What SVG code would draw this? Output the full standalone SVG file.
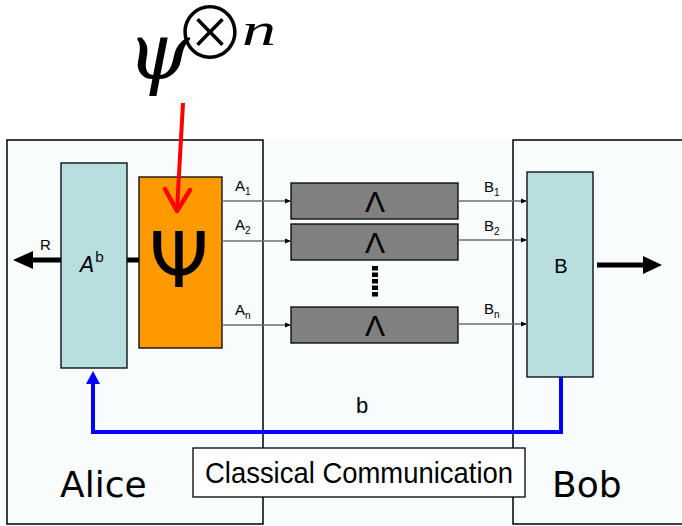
<svg xmlns="http://www.w3.org/2000/svg" width="682" height="526" viewBox="0 0 682 526">
<style>
.frame{fill:none;stroke:#000;stroke-width:1.5}
.wire{stroke:#6e6e6e;stroke-width:1.3;fill:none}
.lam{fill:#808080;stroke:#000;stroke-width:1.3}
.lamt{font-family:"Liberation Sans",Arial,sans-serif;font-size:30px;fill:#000;text-anchor:middle}
.lbl{font-family:"Liberation Sans",Arial,sans-serif;font-size:15px;fill:#000}
.sub{font-size:10px}
.hand{font-family:"Comic Sans MS","DejaVu Sans",sans-serif;fill:#000}
</style>
<defs>
<marker id="sa" viewBox="0 0 6 6" refX="6" refY="3" markerWidth="6" markerHeight="6" markerUnits="userSpaceOnUse" orient="auto">
<path d="M0,0.5 L6,3 L0,5.5 Z" fill="#000"/>
</marker>
</defs>
<rect x="0" y="138" width="682" height="388" fill="#f9fcfd"/>

<g id="alice">
<rect class="frame" x="7" y="140" width="256" height="384"/>
<text class="hand" x="60" y="497" font-size="36">Alice</text>
</g>
<g id="bob">
<rect class="frame" x="513" y="140" width="180" height="384"/>
<text class="hand" x="552" y="497" font-size="36">Bob</text>
</g>

<g id="formula">
<text x="127" y="79" font-family="'DejaVu Serif','Liberation Serif',serif" font-style="italic" font-size="80" font-weight="300">ψ<tspan x="174" y="59" font-family="'Noto Sans CJK JP','DejaVu Sans',sans-serif" font-style="normal" font-size="72">⊗</tspan><tspan x="242" y="45" font-family="'Liberation Serif','DejaVu Serif',serif" font-size="46" textLength="34" lengthAdjust="spacingAndGlyphs">n</tspan></text>
</g>

<g id="Ab">
<rect x="61" y="163" width="66" height="205" fill="#b8dee0" stroke="#000" stroke-width="1.3"/>
<text class="hand" x="80" y="272" font-size="21" font-style="italic">A</text>
<text class="hand" x="95" y="262" font-size="14">b</text>
</g>

<g id="psi">
<rect x="139" y="177" width="83" height="171" fill="#ff9900" stroke="#000" stroke-width="1.3"/>
<text x="179" y="287" text-anchor="middle" font-family="'DejaVu Sans',sans-serif" font-size="76">Ψ</text>
</g>

<g id="lambda1">
<rect class="lam" x="291" y="183" width="167" height="36"/>
<text class="lamt" x="375" y="212">Λ</text>
</g>
<g id="lambda2">
<rect class="lam" x="291" y="224" width="167" height="36"/>
<text class="lamt" x="375" y="253">Λ</text>
</g>
<g id="lambdan">
<rect class="lam" x="291" y="307" width="167" height="36"/>
<text class="lamt" x="375" y="336">Λ</text>
</g>
<g id="dots">
<line x1="375" y1="266" x2="375" y2="298" stroke="#000" stroke-width="6" stroke-dasharray="4.5,2"/>
</g>

<g id="B">
<rect x="527" y="172" width="66" height="205" fill="#b8dee0" stroke="#000" stroke-width="1.3"/>
<text x="561" y="273" text-anchor="middle" font-family="'Liberation Sans',Arial,sans-serif" font-size="20">B</text>
</g>

<g id="cc">
<rect x="193" y="448" width="332" height="49" fill="#fff" stroke="#000" stroke-width="1.3"/>
<text x="205" y="483" font-family="'Liberation Sans',Arial,sans-serif" font-size="29" textLength="308" lengthAdjust="spacingAndGlyphs">Classical Communication</text>
</g>

<g id="connectors">
<line x1="61" y1="260" x2="30" y2="260" stroke="#000" stroke-width="5"/>
<polygon points="13,260 33,251 33,269" fill="#000"/>
<text class="lbl" x="40" y="250">R</text>
<line x1="127" y1="260" x2="139" y2="260" stroke="#000" stroke-width="5"/>
<line x1="183" y1="103" x2="177" y2="210" stroke="#ff0000" stroke-width="4"/>
<polyline points="165,189 177,211 190,190" fill="none" stroke="#ff0000" stroke-width="4.5" stroke-linecap="round" stroke-linejoin="round"/>
<line class="wire" x1="222" y1="201" x2="291" y2="201" marker-end="url(#sa)"/>
<line class="wire" x1="222" y1="241" x2="291" y2="241" marker-end="url(#sa)"/>
<line class="wire" x1="222" y1="325" x2="291" y2="325" marker-end="url(#sa)"/>
<text class="lbl" x="235" y="191">A<tspan class="sub" dy="4">1</tspan></text>
<text class="lbl" x="235" y="230">A<tspan class="sub" dy="4">2</tspan></text>
<text class="lbl" x="235" y="315">A<tspan class="sub" dy="4">n</tspan></text>
<line class="wire" x1="458" y1="201" x2="527" y2="201" marker-end="url(#sa)"/>
<line class="wire" x1="458" y1="240" x2="527" y2="240" marker-end="url(#sa)"/>
<line class="wire" x1="458" y1="324" x2="527" y2="324" marker-end="url(#sa)"/>
<text class="lbl" x="484" y="192">B<tspan class="sub" dy="4">1</tspan></text>
<text class="lbl" x="484" y="231">B<tspan class="sub" dy="4">2</tspan></text>
<text class="lbl" x="484" y="314">B<tspan class="sub" dy="4">n</tspan></text>
<line x1="597" y1="265" x2="645" y2="265" stroke="#000" stroke-width="5"/>
<polygon points="662,265 643,256 643,274" fill="#000"/>
<path d="M561,377 V432 H93 V382" fill="none" stroke="#0000ff" stroke-width="4"/>
<polygon points="93,371 86,384 100,384" fill="#0000ff"/>
<text x="362" y="413" text-anchor="middle" font-family="'Liberation Sans',Arial,sans-serif" font-size="22">b</text>
</g>
</svg>
